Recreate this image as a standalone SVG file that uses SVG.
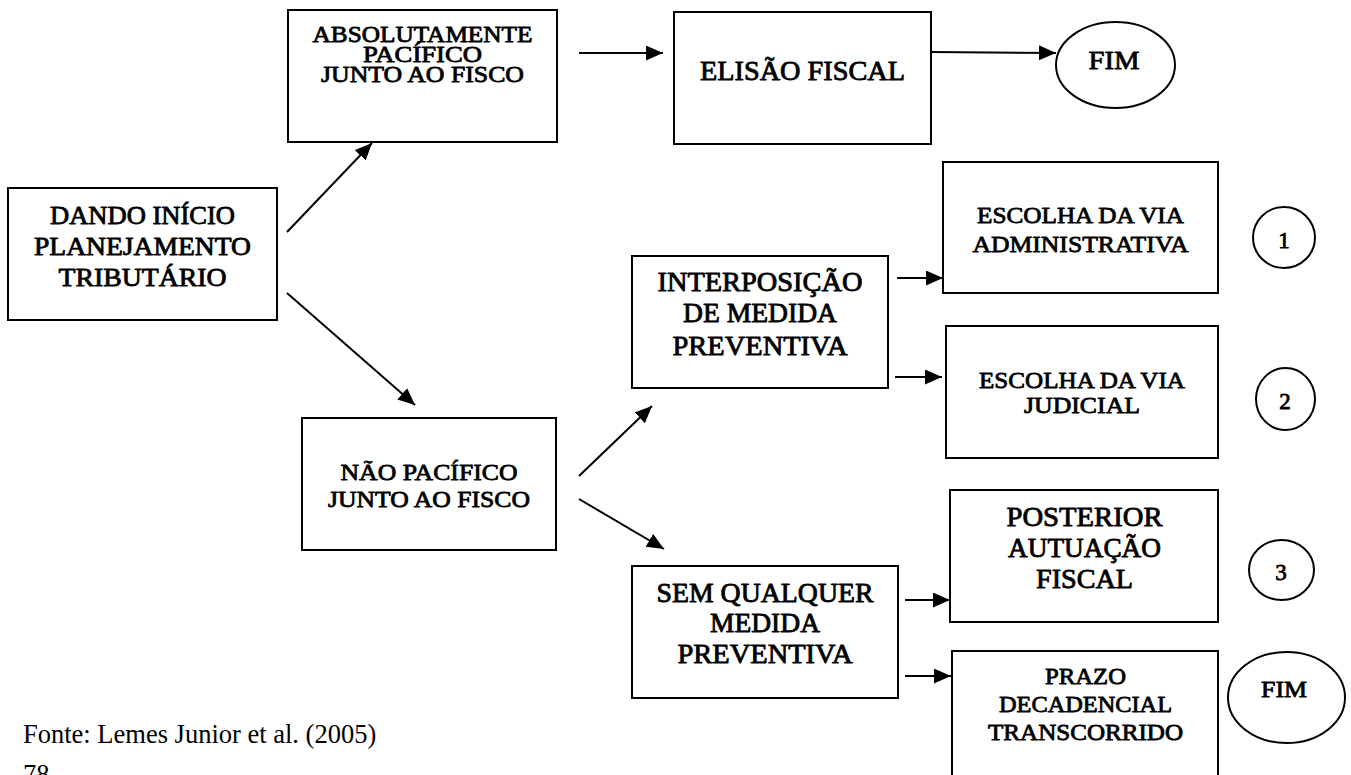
<svg xmlns="http://www.w3.org/2000/svg" width="1351" height="775" viewBox="0 0 1351 775">
  <style>
    .box { fill: #ffffff; stroke: #000000; stroke-width: 2; }
    .lbl { font-family: "Liberation Serif", "Times New Roman", serif; font-weight: normal; fill: #000000; stroke: #000000; stroke-width: 0.8; stroke-linejoin: round; text-anchor: middle; }
    .plain { font-family: "Liberation Serif", "Times New Roman", serif; fill: #000000; }
    .conn { stroke: #000000; stroke-width: 2; fill: none; marker-end: url(#arrow); }
  </style>
  <defs>
    <marker id="arrow" markerUnits="userSpaceOnUse" markerWidth="18" markerHeight="16" refX="17" refY="7.5" orient="auto">
      <path d="M0,0 L17,7.5 L0,15 z" fill="#000000"/>
    </marker>
  </defs>
  <rect x="0" y="0" width="1351" height="775" fill="#ffffff"/>

  <g id="connectors">
    <line class="conn" x1="287" y1="232" x2="372" y2="143"/>
    <line class="conn" x1="287" y1="293" x2="415" y2="405"/>
    <line class="conn" x1="579" y1="53" x2="663" y2="53"/>
    <line class="conn" x1="931" y1="52" x2="1056" y2="53"/>
    <line class="conn" x1="579" y1="476" x2="652" y2="406"/>
    <line class="conn" x1="579" y1="499" x2="664" y2="549"/>
    <line class="conn" x1="897" y1="278" x2="943" y2="278"/>
    <line class="conn" x1="895" y1="377" x2="942" y2="377"/>
    <line class="conn" x1="905" y1="600" x2="950" y2="600"/>
    <line class="conn" x1="905" y1="676" x2="951" y2="676"/>
  </g>

  <g id="node-inicio">
    <rect class="box" x="8" y="188" width="269" height="132"/>
    <text class="lbl" font-size="25.5" x="142.5" y="224" textLength="185" lengthAdjust="spacingAndGlyphs">DANDO INÍCIO</text>
    <text class="lbl" font-size="25.5" x="142.5" y="255" textLength="217" lengthAdjust="spacingAndGlyphs">PLANEJAMENTO</text>
    <text class="lbl" font-size="25.5" x="142.5" y="286" textLength="168" lengthAdjust="spacingAndGlyphs">TRIBUTÁRIO</text>
  </g>

  <g id="node-pacifico">
    <rect class="box" x="288" y="10" width="269" height="132"/>
    <text class="lbl" font-size="23" x="422.5" y="42" textLength="220" lengthAdjust="spacingAndGlyphs">ABSOLUTAMENTE</text>
    <text class="lbl" font-size="23" x="422.5" y="62" textLength="119" lengthAdjust="spacingAndGlyphs">PACÍFICO</text>
    <text class="lbl" font-size="23" x="422.5" y="82" textLength="203" lengthAdjust="spacingAndGlyphs">JUNTO AO FISCO</text>
  </g>

  <g id="node-elisao">
    <rect class="box" x="674" y="12" width="257" height="132"/>
    <text class="lbl" font-size="26.5" x="802.5" y="80" textLength="205" lengthAdjust="spacingAndGlyphs">ELISÃO FISCAL</text>
  </g>

  <g id="node-fim1">
    <ellipse class="box" cx="1115.5" cy="65" rx="59.5" ry="43"/>
    <text class="lbl" font-size="26" x="1114" y="69" textLength="51" lengthAdjust="spacingAndGlyphs">FIM</text>
  </g>

  <g id="node-nao-pacifico">
    <rect class="box" x="302" y="418" width="254" height="132"/>
    <text class="lbl" font-size="24" x="429" y="480" textLength="177" lengthAdjust="spacingAndGlyphs">NÃO PACÍFICO</text>
    <text class="lbl" font-size="24" x="429" y="507" textLength="202" lengthAdjust="spacingAndGlyphs">JUNTO AO FISCO</text>
  </g>

  <g id="node-interposicao">
    <rect class="box" x="632" y="256" width="256" height="132"/>
    <text class="lbl" font-size="26.5" x="760" y="291" textLength="205" lengthAdjust="spacingAndGlyphs">INTERPOSIÇÃO</text>
    <text class="lbl" font-size="26.5" x="760" y="322" textLength="154" lengthAdjust="spacingAndGlyphs">DE MEDIDA</text>
    <text class="lbl" font-size="26.5" x="760" y="355" textLength="175" lengthAdjust="spacingAndGlyphs">PREVENTIVA</text>
  </g>

  <g id="node-sem-medida">
    <rect class="box" x="632" y="566" width="266" height="132"/>
    <text class="lbl" font-size="26.5" x="765" y="602" textLength="217" lengthAdjust="spacingAndGlyphs">SEM QUALQUER</text>
    <text class="lbl" font-size="26.5" x="765" y="632" textLength="110" lengthAdjust="spacingAndGlyphs">MEDIDA</text>
    <text class="lbl" font-size="26.5" x="765" y="663" textLength="175" lengthAdjust="spacingAndGlyphs">PREVENTIVA</text>
  </g>

  <g id="node-via-adm">
    <rect class="box" x="943" y="162" width="275" height="131"/>
    <text class="lbl" font-size="24" x="1080.5" y="223" textLength="207" lengthAdjust="spacingAndGlyphs">ESCOLHA DA VIA</text>
    <text class="lbl" font-size="24" x="1080.5" y="252" textLength="216" lengthAdjust="spacingAndGlyphs">ADMINISTRATIVA</text>
  </g>

  <g id="node-via-jud">
    <rect class="box" x="946" y="326" width="272" height="132"/>
    <text class="lbl" font-size="24" x="1082" y="388" textLength="206" lengthAdjust="spacingAndGlyphs">ESCOLHA DA VIA</text>
    <text class="lbl" font-size="24" x="1082" y="413" textLength="116" lengthAdjust="spacingAndGlyphs">JUDICIAL</text>
  </g>

  <g id="node-posterior">
    <rect class="box" x="950" y="490" width="268" height="132"/>
    <text class="lbl" font-size="26.5" x="1084.5" y="526" textLength="156" lengthAdjust="spacingAndGlyphs">POSTERIOR</text>
    <text class="lbl" font-size="26.5" x="1084.5" y="557" textLength="153" lengthAdjust="spacingAndGlyphs">AUTUAÇÃO</text>
    <text class="lbl" font-size="26.5" x="1084.5" y="588" textLength="97" lengthAdjust="spacingAndGlyphs">FISCAL</text>
  </g>

  <g id="node-prazo">
    <rect class="box" x="952" y="651" width="266" height="150"/>
    <text class="lbl" font-size="23.2" x="1085.5" y="684" textLength="81" lengthAdjust="spacingAndGlyphs">PRAZO</text>
    <text class="lbl" font-size="23.2" x="1085.5" y="712" textLength="173" lengthAdjust="spacingAndGlyphs">DECADENCIAL</text>
    <text class="lbl" font-size="23.2" x="1085.5" y="740" textLength="195" lengthAdjust="spacingAndGlyphs">TRANSCORRIDO</text>
  </g>

  <g id="node-c1">
    <ellipse class="box" cx="1284" cy="237.5" rx="31" ry="30.5"/>
    <text class="lbl" font-size="23" x="1284" y="248">1</text>
  </g>
  <g id="node-c2">
    <ellipse class="box" cx="1285.5" cy="399" rx="29.5" ry="31"/>
    <text class="lbl" font-size="23" x="1285" y="409">2</text>
  </g>
  <g id="node-c3">
    <ellipse class="box" cx="1281.5" cy="570" rx="32.5" ry="30"/>
    <text class="lbl" font-size="23" x="1281" y="580">3</text>
  </g>
  <g id="node-fim2">
    <ellipse class="box" cx="1286.5" cy="697.5" rx="58.5" ry="45.5"/>
    <text class="lbl" font-size="24" x="1284" y="697" textLength="46" lengthAdjust="spacingAndGlyphs">FIM</text>
  </g>

  <g id="caption">
    <text class="plain" font-size="26.5" x="23" y="743">Fonte: Lemes Junior et al. (2005)</text>
    <text class="plain" font-size="26.5" x="23" y="783">78</text>
  </g>
</svg>
